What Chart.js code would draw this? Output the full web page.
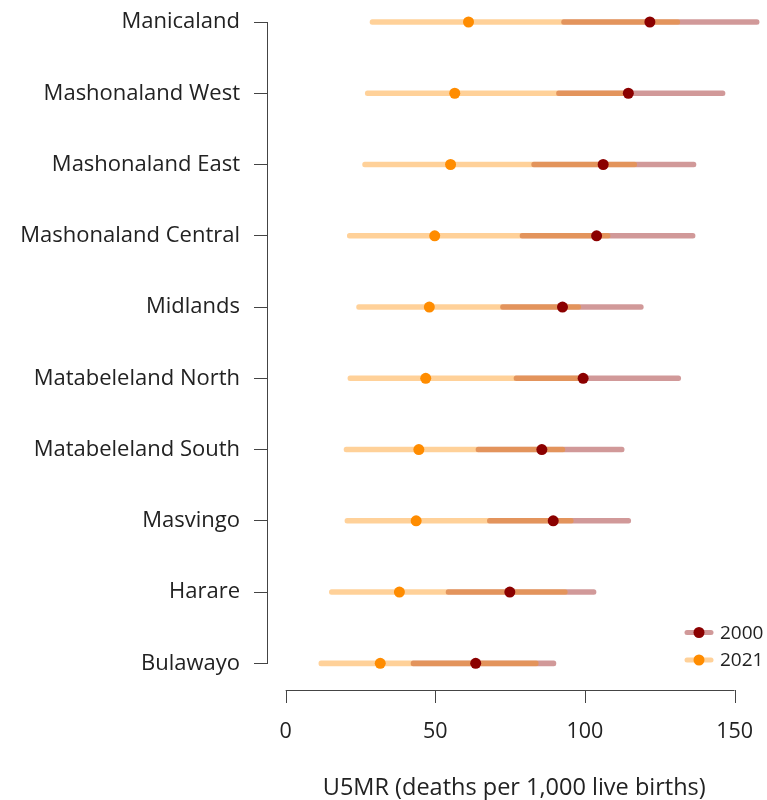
<!DOCTYPE html>
<html>
<head>
<meta charset="utf-8">
<script src="https://cdn.jsdelivr.net/npm/chart.js@4"></script>
<style>
  body { margin: 0; background: #fff; }
  #wrap { width: 767px; height: 800px; }
</style>
</head>
<body>
<div id="wrap"><canvas id="u5mrChart"></canvas></div>
<script>
const regions = ["Manicaland", "Mashonaland West", "Mashonaland East", "Mashonaland Central",
    "Midlands", "Matabeleland North", "Matabeleland South", "Masvingo", "Harare", "Bulawayo"];

// 2000 estimates and uncertainty bounds
const est2000 = [121.7, 114.5, 106.1, 103.9, 92.5, 99.4, 85.6, 89.4, 74.9, 63.5];
const low2000 = [92.2, 90.5, 82.2, 78.3, 71.8, 76.3, 63.6, 67.4, 53.6, 41.9];
const high2000 = [158.2, 146.8, 137.1, 136.8, 119.5, 132.0, 113.1, 115.3, 103.7, 90.3];

// 2021 estimates and uncertainty bounds
const est2021 = [61.1, 56.5, 55.1, 49.8, 48.0, 46.8, 44.5, 43.6, 38.0, 31.6];
const low2021 = [28.2, 26.6, 25.7, 20.6, 23.7, 20.8, 19.5, 19.8, 14.6, 11.1];
const high2021 = [131.7, 113.4, 117.3, 108.4, 98.6, 100.6, 93.3, 96.1, 94.1, 84.4];

const xTicks = [0, 50, 100, 150];

const fontFam = "'Open Sans', 'Liberation Sans', sans-serif";
const axisColor = "#444";

// x axis drawn R style: only from first to last tick, a bit under the plot
const xAxisLine = {
    id: "xAxisLine",
    afterDraw(chart) {
        const ctx = chart.ctx;
        const x = chart.scales.x;
        const y0 = Math.round(chart.chartArea.bottom + 27);
        ctx.save();
        ctx.strokeStyle = axisColor;
        ctx.lineWidth = 1;
        ctx.beginPath();
        ctx.moveTo(x.getPixelForValue(xTicks[0]), y0 + 0.5);
        ctx.lineTo(x.getPixelForValue(xTicks[xTicks.length - 1]), y0 + 0.5);
        xTicks.forEach( (t) => {
            const px = Math.round(x.getPixelForValue(t)) + 0.5;
            ctx.moveTo(px, y0);
            ctx.lineTo(px, y0 + 13);
        })
        ctx.stroke();
        ctx.restore();
    }
};

// legend in the bottom right corner of the plot
const cornerLegend = {
    id: "cornerLegend",
    afterDraw(chart) {
        const ctx = chart.ctx;
        const items = [
            { label: "2000", line: "rgba(139, 0, 0, 0.4)", dot: "#8b0000", y: 632.5 },
            { label: "2021", line: "rgba(255, 140, 0, 0.4)", dot: "#ff8c00", y: 660 }
        ];
        ctx.save();
        items.forEach( (it) => {
            ctx.strokeStyle = it.line;
            ctx.lineWidth = 5;
            ctx.lineCap = "round";
            ctx.beginPath();
            ctx.moveTo(687, it.y);
            ctx.lineTo(711, it.y);
            ctx.stroke();
            ctx.fillStyle = it.dot;
            ctx.beginPath();
            ctx.arc(699, it.y, 5.5, 0, Math.PI * 2);
            ctx.fill();
            ctx.fillStyle = "#222";
            ctx.font = "19px " + fontFam;
            ctx.textBaseline = "middle";
            ctx.fillText(it.label, 720, it.y + 1);
        })
        ctx.restore();
    }
};

document.addEventListener("DOMContentLoaded", function() {
    const ctx = document.getElementById("u5mrChart").getContext("2d");

    const barOpts = {
        type: "bar",
        barThickness: 5,
        borderRadius: 2.5,
        borderSkipped: false,
        borderWidth: 0,
        grouped: false,
        clip: false
    };

    new Chart(ctx, {
        type: "bar",
        data: {
            labels: regions,
            datasets: [
                Object.assign({
                    label: "2000 interval",
                    data: regions.map( (r, i) => [low2000[i], high2000[i]] ),
                    backgroundColor: "rgba(139, 0, 0, 0.4)",
                    order: 4
                }, barOpts),
                Object.assign({
                    label: "2021 interval",
                    data: regions.map( (r, i) => [low2021[i], high2021[i]] ),
                    backgroundColor: "rgba(255, 140, 0, 0.4)",
                    order: 3
                }, barOpts),
                {
                    type: "line",
                    label: "2000",
                    indexAxis: "y",
                    data: est2000,
                    showLine: false,
                    clip: false,
                    pointRadius: 5.5,
                    pointBorderWidth: 0,
                    pointBackgroundColor: "#8b0000",
                    order: 2
                },
                {
                    type: "line",
                    label: "2021",
                    indexAxis: "y",
                    data: est2021,
                    showLine: false,
                    clip: false,
                    pointRadius: 5.5,
                    pointBorderWidth: 0,
                    pointBackgroundColor: "#ff8c00",
                    order: 1
                }
            ]
        },
        options: {
            indexAxis: "y",
            responsive: true,
            maintainAspectRatio: false,
            animation: false,
            layout: { padding: { top: 22, right: 0, bottom: 0, left: 0 } },
            plugins: {
                legend: { display: false },
                tooltip: { enabled: false }
            },
            scales: {
                y: {
                    type: "category",
                    offset: false,
                    grid: { display: true, offset: false, drawOnChartArea: false, tickLength: 13, color: axisColor },
                    border: { display: true, color: axisColor, width: 1 },
                    ticks: {
                        padding: 14,
                        color: "#222",
                        font: { family: fontFam, size: 22 }
                    },
                    afterFit(scale) {
                        scale.width = 267;
                        scale.paddingTop = 0;
                        scale.paddingBottom = 0;
                    }
                },
                x: {
                    type: "linear",
                    min: -6.24,
                    max: 159.0,
                    grid: { display: false, drawTicks: false },
                    border: { display: false },
                    afterBuildTicks(scale) { scale.ticks = xTicks.map( (v) => ({ value: v }) ); },
                    ticks: {
                        padding: 56,
                        color: "#222",
                        font: { family: fontFam, size: 21.5 }
                    },
                    title: {
                        display: true,
                        text: "U5MR (deaths per 1,000 live births)",
                        color: "#222",
                        padding: { top: 0, bottom: 0 },
                        font: { family: fontFam, size: 23.5, lineHeight: 1 }
                    },
                    afterFit(scale) {
                        scale.height = 136.7;
                        scale.paddingLeft = 0;
                        scale.paddingRight = 0;
                    }
                }
            }
        },
        plugins: [xAxisLine, cornerLegend]
    });
});
</script>
</body>
</html>
